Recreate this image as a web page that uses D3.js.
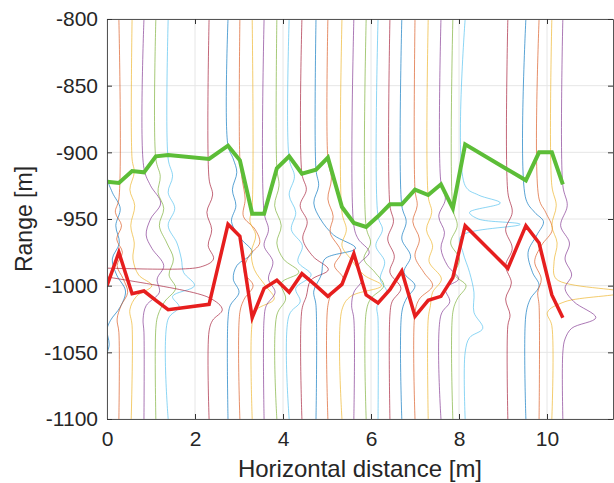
<!DOCTYPE html>
<html>
<head>
<meta charset="utf-8">
<script src="https://cdn.jsdelivr.net/npm/d3@7"></script>
<style>
  body { margin: 0; background: #fff; }
  svg { display: block; font-family: "Liberation Sans", Arial, sans-serif; }
</style>
</head>
<body>
<div id="chart"></div>
<script>
// base positions of the traces along the profile [m]
const traceX = [0, 0.27, 0.57, 0.84, 1.11, 1.39, 2.32, 2.75, 3.02, 3.30, 3.57, 3.86, 4.14, 4.43,
  4.75, 5.02, 5.34, 5.61, 5.89, 6.16, 6.43, 6.70, 7.00, 7.30, 7.59, 7.86, 8.14, 9.11, 9.52, 9.82, 10.11, 10.36];

// picked interfaces at every trace (range, m)
const greenRange = [-922, -923, -914, -915, -903, -902, -905, -895, -906, -946, -946, -912, -903, -916,
  -913, -904, -941, -953, -956, -948, -939, -939, -928, -932, -924, -942, -894, -913, -921, -900, -900, -924];
const redRange = [-1000, -975, -1006, -1004, -1011, -1018, -1014, -954, -963, -1024, -1002, -996, -1005, -991,
  -1000, -1008, -999, -976, -1007, -1013, -1003, -989, -1023, -1011, -1008, -994, -955, -987, -955, -968, -1007, -1024];

// wiggle of each trace: [range, horizontal offset from its base in m]
const traceKnots = [
  [[-800,0],[-918,0],[-930,.12],[-942,.3],[-955,.2],[-968,.28],[-980,.12],[-992,.22],[-1004,.42],[-1016,.3],[-1026,.08],[-1033,0],[-1044,.05],[-1052,0],[-1100,0]],
  [[-800,0],[-935,0],[-945,-.08],[-955,.06],[-965,-.05],[-975,.08],[-985,-.04],[-995,.1],[-1005,.2],[-1015,.05],[-1025,-.04],[-1035,0],[-1100,0]],
  [[-800,0],[-905,0],[-915,.05],[-928,-.05],[-940,.06],[-955,-.03],[-968,.05],[-980,.02],[-992,.15],[-1000,.45],[-1008,.1],[-1018,-.05],[-1030,0],[-1100,-.02]],
  [[-800,0],[-912,0],[-925,.15],[-938,.38],[-950,.15],[-962,.05],[-972,.18],[-985,.45],[-995,.3],[-1005,.35],[-1015,.05],[-1025,-.02],[-1035,0],[-1100,0]],
  [[-800,0],[-905,0],[-918,.1],[-930,.05],[-942,.18],[-955,.08],[-968,.25],[-980,.4],[-992,.3],[-1002,.45],[-1012,.2],[-1022,.05],[-1032,0],[-1100,0]],
  [[-800,0],[-905,0],[-918,.1],[-930,0],[-942,.15],[-955,0],[-968,.2],[-980,.3],[-990,.35],[-1000,.6],[-1008,.1],[-1016,.25],[-1025,0],[-1100,0]],
  [[-800,0],[-920,0],[-932,.08],[-945,-.05],[-958,.06],[-970,-.02],[-980,.1],[-986,-.2],[-988,-3.0],[-1009,0],[-1018,.3],[-1026,.08],[-1034,0],[-1100,0]],
  [[-800,0],[-895,0],[-905,.12],[-915,.2],[-928,.1],[-940,.18],[-952,.08],[-965,.3],[-975,.55],[-985,.2],[-995,.12],[-1005,.25],[-1015,.05],[-1025,0],[-1100,0]],
  [[-800,0],[-905,0],[-920,.05],[-935,.12],[-948,.08],[-958,.35],[-968,.45],[-978,.2],[-990,.1],[-1000,.3],[-1010,.1],[-1020,0],[-1100,0]],
  [[-800,0],[-940,0],[-952,-.05],[-962,.08],[-975,-.02],[-988,.05],[-1000,.3],[-1010,.5],[-1018,.1],[-1028,0],[-1100,0]],
  [[-800,0],[-945,0],[-958,.1],[-970,0],[-982,.2],[-995,.1],[-1005,.25],[-1015,.05],[-1025,0],[-1100,0]],
  [[-800,0],[-912,0],[-925,.05],[-940,-.05],[-955,.1],[-968,0],[-980,.15],[-990,.5],[-998,.1],[-1010,.2],[-1022,0],[-1100,0]],
  [[-800,0],[-905,0],[-918,.12],[-932,0],[-945,.15],[-958,.05],[-970,.3],[-982,.2],[-992,.5],[-1002,.15],[-1012,.25],[-1022,0],[-1100,0]],
  [[-800,0],[-916,0],[-928,.1],[-940,-.04],[-952,.12],[-965,.02],[-978,.25],[-988,.6],[-996,.2],[-1008,.1],[-1018,0],[-1100,0]],
  [[-800,0],[-913,0],[-925,.06],[-938,-.05],[-950,.1],[-962,.4],[-972,.9],[-980,.2],[-992,.12],[-1004,-.05],[-1015,0],[-1100,0]],
  [[-800,0],[-905,0],[-920,.08],[-935,0],[-948,.12],[-960,.05],[-975,.3],[-985,.15],[-995,.35],[-1005,.1],[-1015,0],[-1100,0]],
  [[-800,0],[-945,0],[-958,.1],[-970,0],[-980,.2],[-992,.5],[-1000,.9],[-1008,.2],[-1018,0],[-1100,0]],
  [[-800,0],[-955,0],[-965,.1],[-975,.35],[-985,.1],[-995,.2],[-1005,0],[-1015,-.05],[-1025,0],[-1100,0]],
  [[-800,0],[-956,0],[-968,.1],[-980,-.05],[-990,.2],[-1000,.4],[-1010,.1],[-1020,0],[-1100,0]],
  [[-800,0],[-948,0],[-958,.1],[-970,-.05],[-982,.15],[-995,.05],[-1005,.2],[-1015,-.02],[-1025,0],[-1100,0]],
  [[-800,0],[-940,0],[-952,.08],[-965,-.05],[-978,.1],[-990,0],[-1002,.25],[-1012,.05],[-1022,0],[-1100,0]],
  [[-800,0],[-940,0],[-952,.1],[-965,0],[-978,.2],[-990,.05],[-1000,.3],[-1010,.1],[-1020,0],[-1100,0]],
  [[-800,0],[-928,0],[-940,.05],[-952,-.05],[-965,.1],[-978,0],[-990,.2],[-1000,.4],[-1010,.1],[-1020,0],[-1100,0]],
  [[-800,0],[-933,0],[-945,.08],[-958,-.04],[-970,.1],[-982,.02],[-995,.3],[-1005,.1],[-1015,.05],[-1025,0],[-1100,0]],
  [[-800,0],[-923,0],[-935,.1],[-948,-.05],[-960,.08],[-972,0],[-985,.15],[-995,.4],[-1002,.1],[-1012,.2],[-1022,0],[-1100,0]],
  [[-800,0],[-942,0],[-955,.1],[-968,-.05],[-980,.15],[-992,.05],[-1000,.3],[-1010,.1],[-1020,0],[-1100,0]],
  [[-800,0],[-925,0],[-932,.3],[-938,.8],[-945,.1],[-950,.3],[-954,1.25],[-963,-.1],[-975,-.05],[-990,.1],[-1005,.2],[-1020,.2],[-1032,.4],[-1039,.1],[-1050,0],[-1100,0]],
  [[-800,0],[-930,0],[-945,.1],[-958,-.05],[-972,.1],[-985,-.05],[-998,.08],[-1010,-.05],[-1022,.05],[-1030,0],[-1100,0]],
  [[-800,0],[-935,0],[-945,.2],[-952,.4],[-962,.25],[-975,.05],[-990,.15],[-1000,.3],[-1010,.1],[-1022,0],[-1100,0]],
  [[-800,0],[-935,0],[-945,.15],[-958,.3],[-970,.05],[-982,-.1],[-995,.05],[-1005,-.03],[-1015,0],[-1100,0]],
  [[-800,0],[-925,0],[-940,.1],[-955,0],[-968,.12],[-982,.05],[-995,.1],[-1005,1.6],[-1012,.3],[-1020,-.1],[-1030,0],[-1100,0]],
  [[-800,0],[-925,0],[-940,.1],[-955,-.05],[-968,.15],[-980,.05],[-992,.2],[-1002,.05],[-1012,.25],[-1024,.75],[-1032,.2],[-1040,.05],[-1050,0],[-1100,0]]
];

const traceColors = ["#0072BD", "#D95319", "#EDB120", "#7E2F8E", "#77AC30", "#4DBEEE", "#A2142F"];
const xTicks = [0, 2, 4, 6, 8, 10];
const yTicks = [-800, -850, -900, -950, -1000, -1050, -1100];

const width = 614, height = 483;
const margin = {top: 19, right: 1, bottom: 64, left: 107};
const innerW = width - margin.left - margin.right;
const innerH = height - margin.top - margin.bottom;

const svg = d3.select("#chart").append("svg")
    .attr("width", width)
    .attr("height", height);

const x = d3.scaleLinear().domain([0, 11.5]).range([margin.left, margin.left + innerW]);
const y = d3.scaleLinear().domain([-800, -1100]).range([margin.top, margin.top + innerH]);

svg.append("defs").append("clipPath").attr("id", "plotclip")
  .append("rect")
    .attr("x", margin.left).attr("y", margin.top)
    .attr("width", innerW).attr("height", innerH);

// grid
const grid = svg.append("g");
grid.selectAll(".gx").data(xTicks).enter().append("line")
    .attr("x1", d => x(d)).attr("x2", d => x(d))
    .attr("y1", margin.top).attr("y2", margin.top + innerH)
    .attr("stroke", "#e6e6e6").attr("stroke-width", 1);
grid.selectAll(".gy").data(yTicks).enter().append("line")
    .attr("x1", margin.left).attr("x2", margin.left + innerW)
    .attr("y1", d => y(d)).attr("y2", d => y(d))
    .attr("stroke", "#e6e6e6").attr("stroke-width", 1);

const plot = svg.append("g").attr("clip-path", "url(#plotclip)");

// traces
const traceLine = d3.line()
    .x(d => d[0])
    .y(d => d[1])
    .curve(d3.curveCatmullRom.alpha(0.5));

plot.selectAll(".trace").data(traceKnots).enter().append("path")
    .attr("fill", "none")
    .attr("stroke", (d, i) => traceColors[i % 7])
    .attr("stroke-width", 1)
    .attr("stroke-opacity", 0.65)
    .attr("d", (d, i) => traceLine(d.map(k => [x(traceX[i] + k[1]), y(k[0])])));

// interfaces
const pickLine = d3.line().x(d => x(d[0])).y(d => y(d[1]));
plot.append("path")
    .attr("d", pickLine(traceX.map((v, i) => [v, greenRange[i]])))
    .attr("fill", "none").attr("stroke", "#5cbd37").attr("stroke-width", 4)
    .attr("stroke-linejoin", "miter");
plot.append("path")
    .attr("d", pickLine(traceX.map((v, i) => [v, redRange[i]])))
    .attr("fill", "none").attr("stroke", "#e61e1e").attr("stroke-width", 3.5)
    .attr("stroke-linejoin", "miter");

// axes (ticks inward on all four sides)
const axColor = "#555";
const fmt = d => String(d);
const xAxB = svg.append("g").attr("transform", `translate(0,${margin.top + innerH})`)
    .call(d3.axisBottom(x).tickValues(xTicks).tickFormat(fmt).tickSizeInner(-5).tickSizeOuter(0).tickPadding(12));
const xAxT = svg.append("g").attr("transform", `translate(0,${margin.top})`)
    .call(d3.axisTop(x).tickValues(xTicks).tickSizeInner(-5).tickSizeOuter(0).tickFormat(""));
const yAxL = svg.append("g").attr("transform", `translate(${margin.left},0)`)
    .call(d3.axisLeft(y).tickValues(yTicks).tickFormat(fmt).tickSizeInner(-5).tickSizeOuter(0).tickPadding(9));
const yAxR = svg.append("g").attr("transform", `translate(${margin.left + innerW},0)`)
    .call(d3.axisRight(y).tickValues(yTicks).tickSizeInner(-5).tickSizeOuter(0).tickFormat(""));

[xAxB, xAxT, yAxL, yAxR].forEach(g => {
  g.select(".domain").attr("stroke", axColor);
  g.selectAll(".tick line").attr("stroke", "#333");
  g.selectAll("text").attr("fill", "#262626")
    .style("font-size", "21px")
    .style("font-family", "'Liberation Sans', Arial, sans-serif");
});

// axis labels
svg.append("text")
    .attr("x", margin.left + innerW / 2)
    .attr("y", 477)
    .style("text-anchor", "middle")
    .style("font-size", "24px")
    .attr("fill", "#262626")
    .text("Horizontal distance [m]");

svg.append("text")
    .attr("transform", `translate(32, ${margin.top + innerH / 2}) rotate(-90)`)
    .style("text-anchor", "middle")
    .style("font-size", "23px")
    .attr("fill", "#262626")
    .text("Range [m]");
</script>
</body>
</html>
